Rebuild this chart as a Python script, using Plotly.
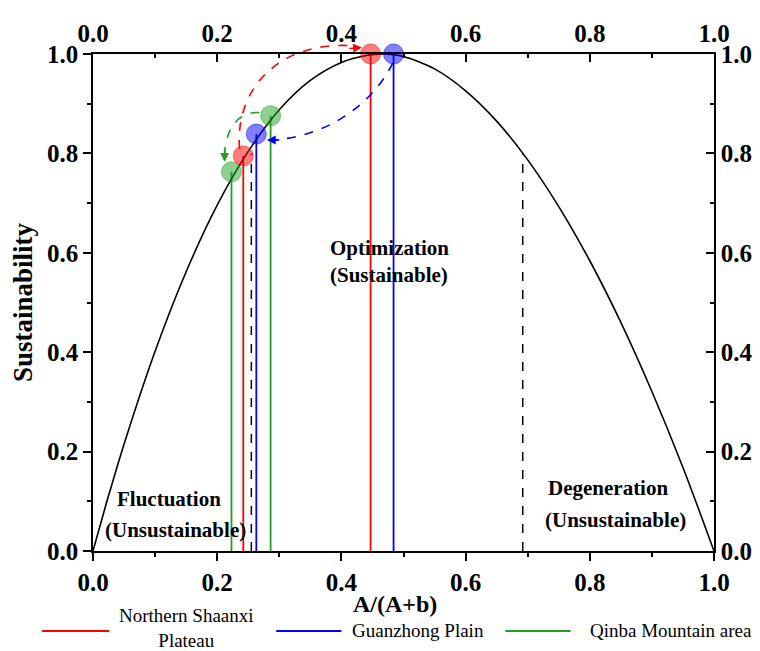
import plotly.graph_objects as go

# ---- data ----
curve_x = [0, 0.025, 0.05, 0.10, 0.15, 0.20, 0.25, 0.30, 0.35, 0.40, 0.44, 0.47,
           0.50, 0.55, 0.60, 0.65, 0.70, 0.75, 0.80, 0.85, 0.90, 0.95, 1.0]
curve_y = [0, 0.111, 0.215, 0.402, 0.562, 0.696, 0.804, 0.888, 0.947, 0.983, 0.997, 1.0,
           0.995, 0.970, 0.926, 0.865, 0.787, 0.693, 0.584, 0.460, 0.321, 0.168, 0.0]

regions = ["Northern Shaanxi Plateau", "Guanzhong Plain", "Qinba Mountain area"]
legend_labels = ["Northern Shaanxi<br>Plateau", "Guanzhong Plain", "Qinba Mountain area"]
colors = ["#FF0000", "#0000FF", "#1FA01F"]
fills = ["rgba(255,0,0,0.5)", "rgba(0,0,255,0.5)", "rgba(31,160,31,0.5)"]
x_from = [0.242, 0.484, 0.286]
y_from = [0.795, 1.0, 0.876]
x_to = [0.447, 0.263, 0.223]
y_to = [1.0, 0.839, 0.763]

threshold_x = [0.255, 0.692]
threshold_y = 0.8

FONT = "Liberation Serif, Times New Roman, serif"

fig = go.Figure()

# vertical lines for each state
for i in range(3):
    for xv, yv in [(x_from[i], y_from[i]), (x_to[i], y_to[i])]:
        fig.add_trace(go.Scatter(x=[xv, xv], y=[0, yv], mode="lines",
                                 line=dict(color=colors[i], width=1.8),
                                 hoverinfo="skip", showlegend=False))

# threshold dashed lines
for tx in threshold_x:
    fig.add_trace(go.Scatter(x=[tx, tx], y=[0, threshold_y], mode="lines",
                             line=dict(color="black", width=1.5, dash="dash"),
                             hoverinfo="skip", showlegend=False))

# curve
fig.add_trace(go.Scatter(x=curve_x, y=curve_y, mode="lines",
                         line=dict(color="black", width=1.6, shape="spline", smoothing=0.8),
                         hoverinfo="skip", showlegend=False))

# circles
for i in range(3):
    fig.add_trace(go.Scatter(x=[x_from[i], x_to[i]], y=[y_from[i], y_to[i]],
                             mode="markers", cliponaxis=False,
                             marker=dict(size=20, color=fills[i],
                                         line=dict(color=fills[i], width=1)),
                             name=regions[i], showlegend=False))

# invisible trace for top/right axes
fig.add_trace(go.Scatter(x=[0, 1], y=[0, 1], xaxis="x2", yaxis="y2", mode="markers",
                         marker=dict(size=0.1, opacity=0), hoverinfo="skip",
                         showlegend=False))

# curved dashed arrows (paper coords == data coords since ranges are [0,1])
paths = [
    ("M 0.236,0.809 C 0.228,0.93 0.30,1.03 0.425,1.016", colors[0]),
    ("M 0.483,0.982 C 0.45,0.90 0.38,0.835 0.290,0.827", colors[1]),
    ("M 0.268,0.882 C 0.24,0.885 0.215,0.86 0.212,0.80", colors[2]),
]
for p, c in paths:
    fig.add_shape(type="path", path=p, xref="paper", yref="paper",
                  line=dict(color=c, width=1.6, dash="dash"))

heads = [(0.433, 1.013, -14, 1, colors[0]),
         (0.280, 0.827, 14, 0, colors[1]),
         (0.212, 0.783, 0, -14, colors[2])]
for hx, hy, ax, ay, c in heads:
    fig.add_annotation(x=hx, y=hy, xref="paper", yref="paper", ax=ax, ay=ay,
                       text="", showarrow=True, arrowhead=2, arrowsize=1.1,
                       arrowwidth=1.6, arrowcolor=c, standoff=0)

# region texts
txt_font = dict(family=FONT, size=21, color="black", weight=700)
for tx, ty, t in [(0.477, 0.61, "Optimization"), (0.477, 0.556, "(Sustainable)"),
                  (0.122, 0.104, "Fluctuation"), (0.133, 0.042, "(Unsustainable)"),
                  (0.83, 0.127, "Degeneration"), (0.841, 0.062, "(Unsustainable)")]:
    fig.add_annotation(x=tx, y=ty, xref="x", yref="y", text=t, showarrow=False,
                       xanchor="center", yanchor="middle", font=txt_font)

# x-axis title (placed as in the reference, slightly left of centre)
fig.add_annotation(x=0.486, y=-0.106, xref="paper", yref="paper", text="A/(A+b)",
                   showarrow=False, xanchor="center", yanchor="middle",
                   font=dict(family=FONT, size=24, color="black", weight=700))

# manual legend
leg_lines = [(-0.082, 0.026), (0.295, 0.40), (0.664, 0.769)]
leg_text_x = [0.151, 0.523, 0.931]
leg_text_y = [-0.155, -0.160, -0.160]
for i in range(3):
    fig.add_shape(type="line", xref="paper", yref="paper",
                  x0=leg_lines[i][0], x1=leg_lines[i][1], y0=-0.161, y1=-0.161,
                  line=dict(color=colors[i], width=2))
    fig.add_annotation(x=leg_text_x[i], y=leg_text_y[i], xref="paper", yref="paper",
                       xanchor="center", yanchor="middle",
                       text=legend_labels[i], showarrow=False,
                       font=dict(family=FONT, size=19, color="black"))

tick_font = dict(family=FONT, size=25, color="black", weight=700)
common = dict(range=[0, 1], dtick=0.2, tick0=0, tickformat=".1f", showgrid=False,
              zeroline=False, showline=True, linecolor="black", linewidth=1.5,
              tickcolor="black", tickwidth=1.5, ticklen=8, tickfont=tick_font)

fig.update_layout(
    width=760, height=651,
    margin=dict(l=83, r=54, t=41, b=108),
    plot_bgcolor="white", paper_bgcolor="white",
    showlegend=False,
    xaxis=dict(**common, ticks="outside",
               minor=dict(dtick=0.1, ticks="outside", ticklen=4, tickwidth=1.5, tickcolor="black")),
    xaxis2=dict(**common, ticks="inside", overlaying="x", side="top",
                minor=dict(dtick=0.1, ticks="inside", ticklen=4, tickwidth=1.5, tickcolor="black")),
    yaxis=dict(**common, ticks="outside",
               minor=dict(dtick=0.1, ticks="outside", ticklen=4, tickwidth=1.5, tickcolor="black"),
               title=dict(text="Sustainability", font=dict(family=FONT, size=27, color="black", weight=700),
                          standoff=8)),
    yaxis2=dict(**common, ticks="inside", overlaying="y", side="right",
                minor=dict(dtick=0.1, ticks="inside", ticklen=4, tickwidth=1.5, tickcolor="black")),
)

fig.write_html("out.html")
